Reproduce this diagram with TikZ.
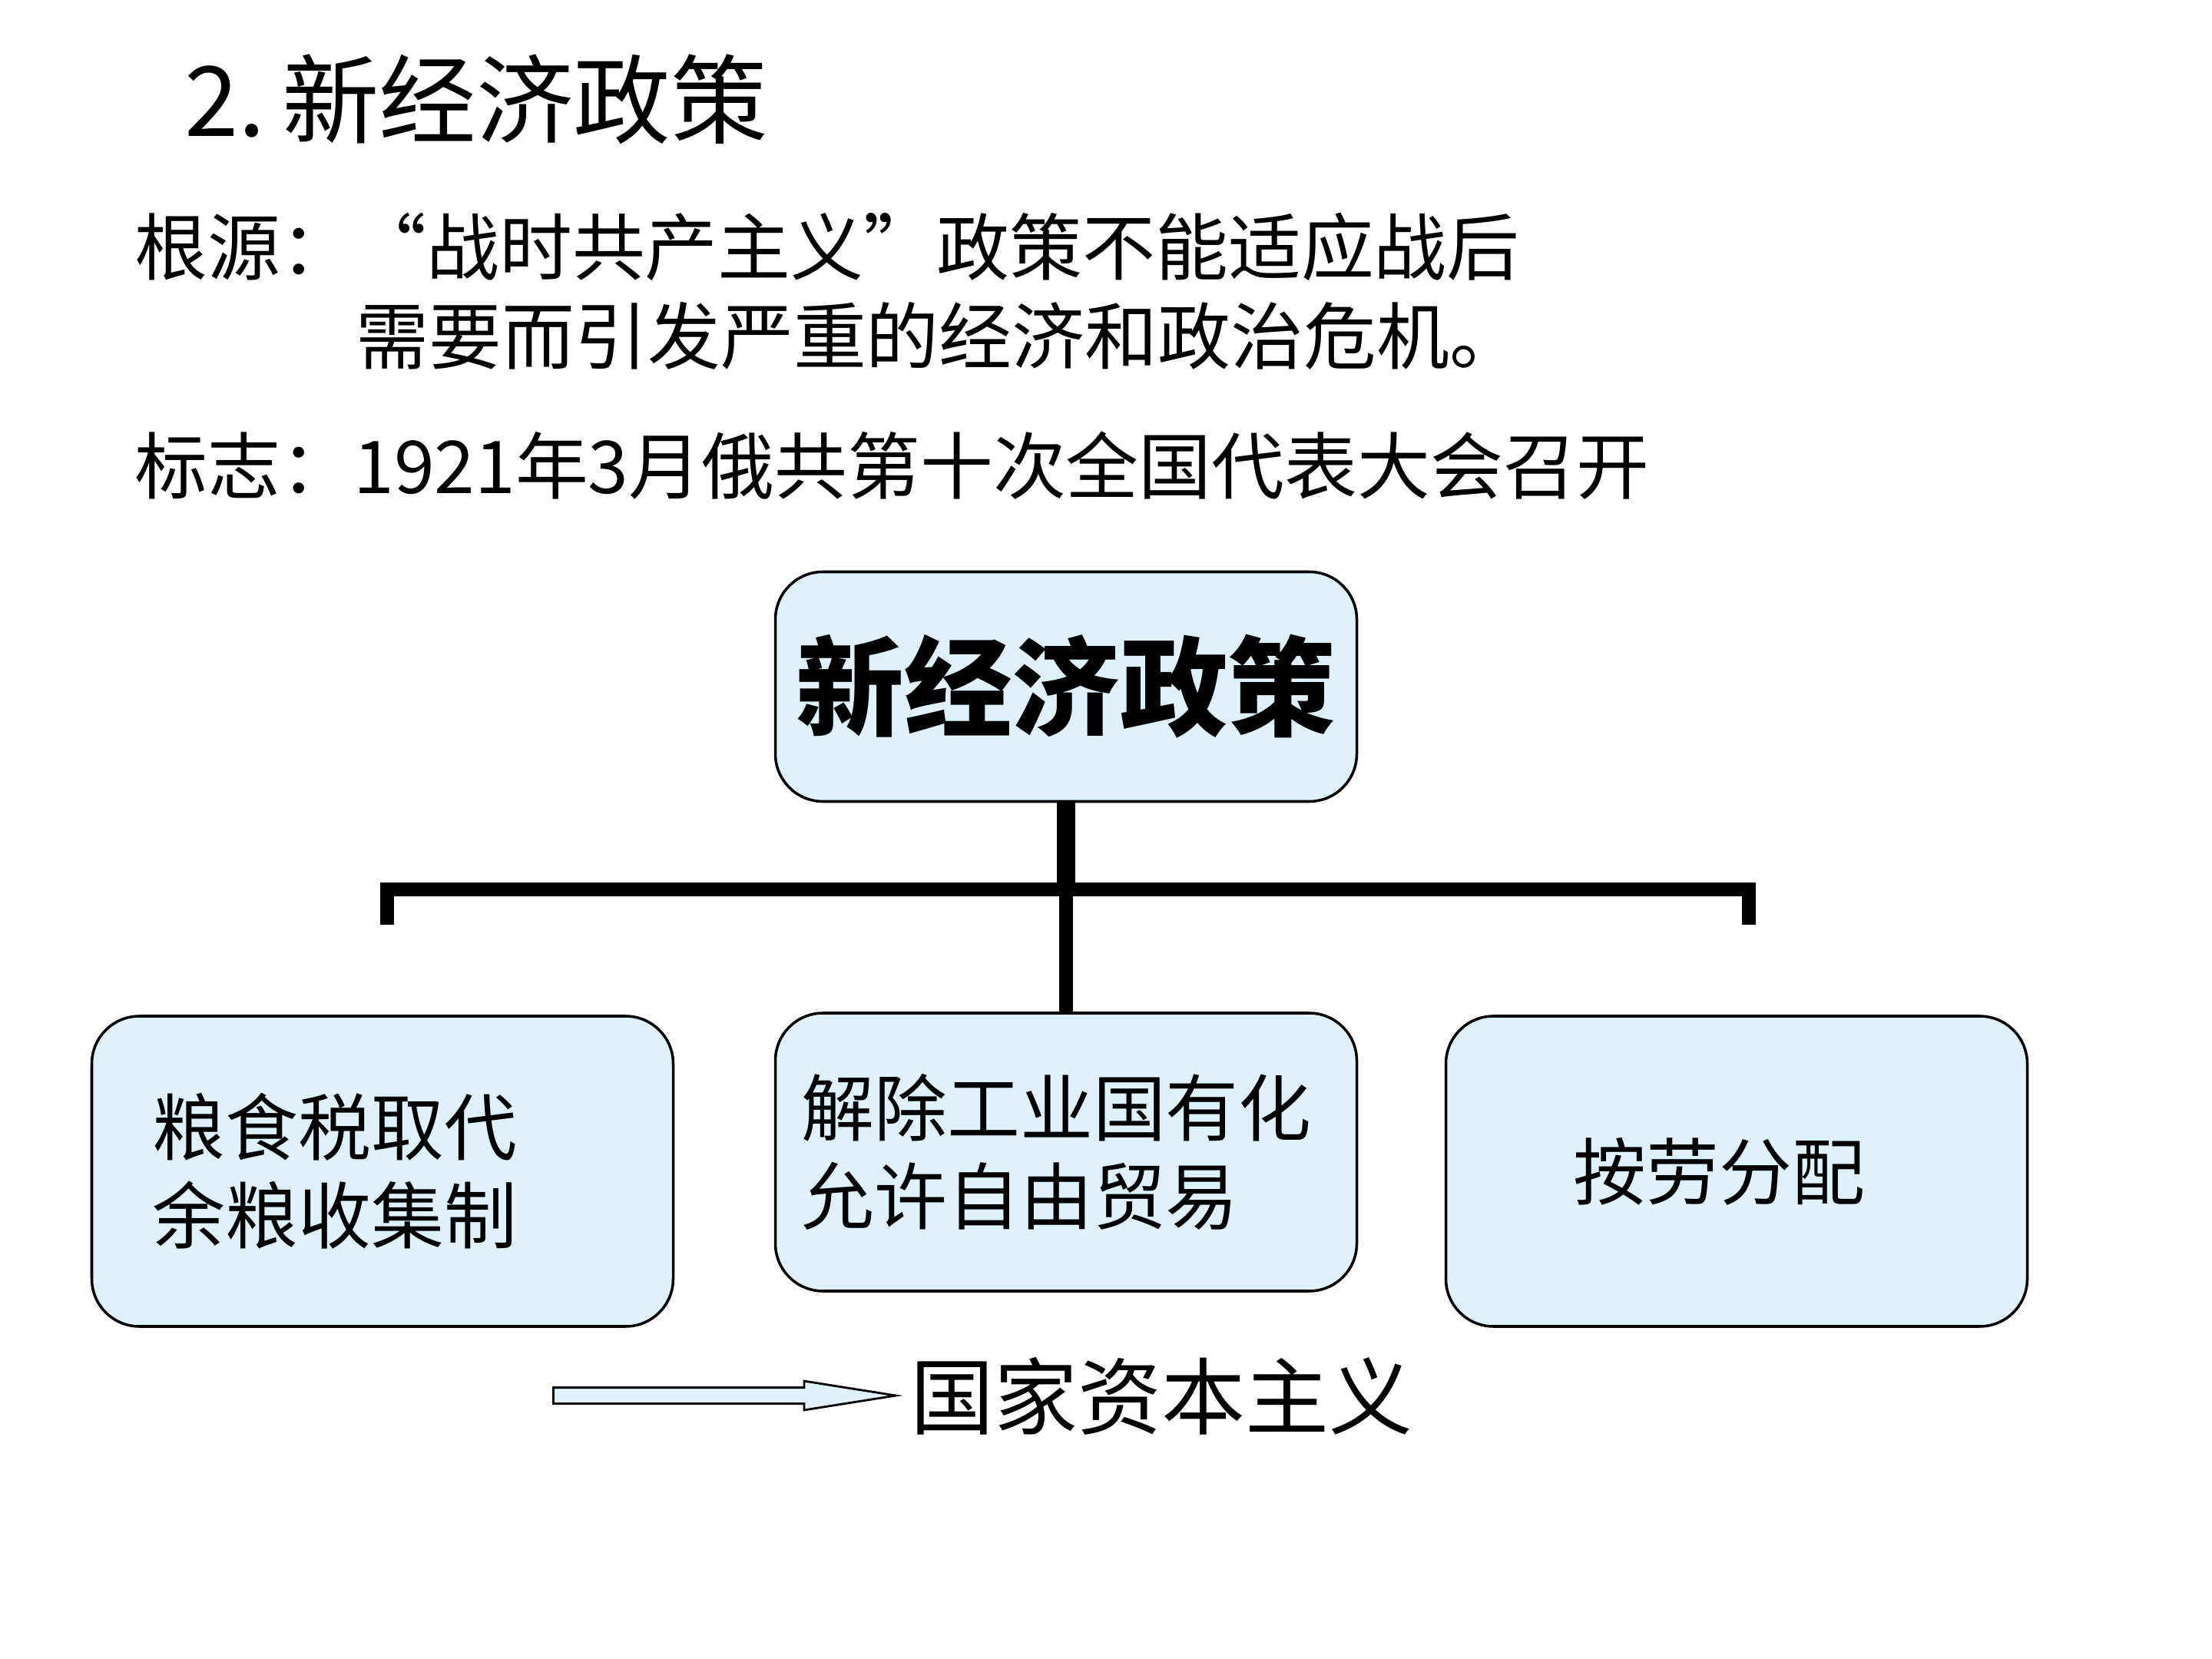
\documentclass[tikz,border=0pt]{standalone}
\usepackage{fontspec}
\setmainfont{Noto Sans CJK SC}
\usepackage{xcolor}
\usepackage{tikz}
\usetikzlibrary{shapes.arrows}

\definecolor{boxblue}{RGB}{223,241,253}
\newcommand\titlesize{\fontsize{36}{40}\selectfont}
\newcommand\bodysize{\fontsize{27}{32.8}\selectfont}
\newcommand\headsize{\fontsize{40}{44}\selectfont}
\newcommand\capsize{\fontsize{31}{34}\selectfont}

\begin{document}
\begin{tikzpicture}[x=1cm,y=-1cm,
    txt/.style={anchor=west,inner sep=0pt,font=\bodysize},
    box/.style={draw,fill=boxblue,line width=1pt,rounded corners=0.62cm,
      minimum width=7.57cm,align=left,font=\bodysize},
    thickline/.style={line width=5.1pt},
    trunkline/.style={line width=6.8pt}]
  \useasboundingbox (0,0) rectangle (28.8,21.6);

  % heading and the two notes
  \node[anchor=west,inner sep=0pt,font=\titlesize] (title) at (2.40,1.29) {2.\,新经济政策};
  \node[txt] (root1) at (1.75,3.21) {根源：“战时共产主义”政策不能适应战后};
  \node[txt] (root2) at (4.63,4.37) {需要而引发严重的经济和政治危机。};
  \node[txt] (sign) at (1.75,6.06) {标志：1921年3月俄共第十次全国代表大会召开};

  % the tree
  \node[box,align=center,font=\headsize\bfseries,minimum height=2.99cm] (npe) at (13.88,8.94) {新经济政策};
  \node[box,minimum height=4.04cm,inner xsep=0.79cm,text width=5.99cm] (grain) at (4.98,15.25) {粮食税取代\\余粮收集制};
  \node[box,minimum height=3.62cm,inner xsep=0.34cm,text width=6.89cm] (indus) at (13.88,15.00) {解除工业国有化\\允许自由贸易};
  \node[box,minimum height=4.04cm,inner xsep=1.66cm,text width=4.25cm] (labour) at (22.61,15.25) {按劳分配};

  \coordinate (jn) at (13.88,11.58);
  \coordinate (lt) at (5.04,12.04);
  \coordinate (rt) at (22.77,12.04);
  \draw[thickline] (lt) |- (jn) -| (rt);
  \draw[thickline] (jn) -- (indus.north);
  \draw[trunkline] (npe.south) -- (jn);

  % outcome
  \node[single arrow,draw,fill=boxblue,line width=0.8pt,inner xsep=0pt,inner ysep=0.09cm,
    minimum height=4.46cm,anchor=tail,
    single arrow head extend=0.085cm,single arrow tip angle=18] (arr) at (7.19,18.17) {};
  \node[anchor=west,inner sep=0pt,font=\capsize] (cap) at (11.85,18.18) {国家资本主义};
\end{tikzpicture}
\end{document}
